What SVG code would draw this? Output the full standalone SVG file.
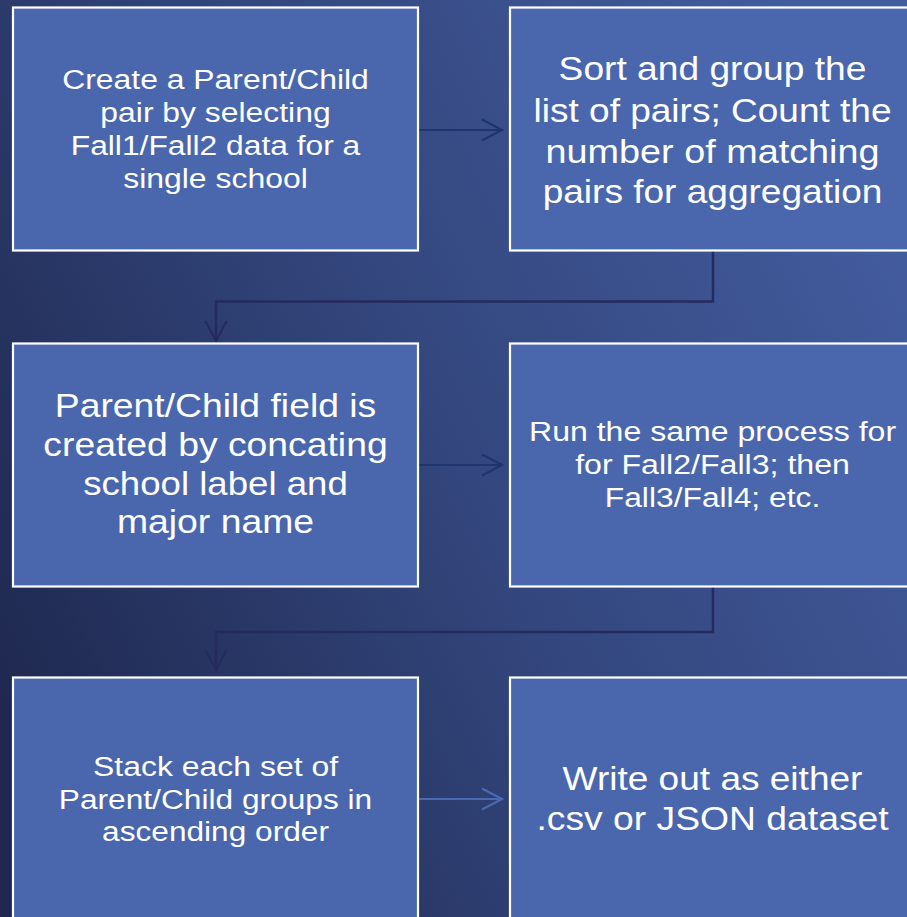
<svg xmlns="http://www.w3.org/2000/svg" width="907" height="917" viewBox="0 0 907 917">
<defs>
<linearGradient id="bg" x1="0" y1="0.75" x2="1" y2="0.25">
<stop offset="0" stop-color="#1f2950"/>
<stop offset="0.5" stop-color="#33467d"/>
<stop offset="1" stop-color="#435c9e"/>
</linearGradient>
<marker id="ahDark" markerUnits="userSpaceOnUse" markerWidth="26" markerHeight="26" viewBox="-22 -12 26 24" refX="0" refY="0" orient="auto">
<path d="M-20,-10.5 L0,0 L-20,10.5" fill="none" stroke="#1e3570" stroke-width="2.2"/>
</marker>
<marker id="ahElbow" markerUnits="userSpaceOnUse" markerWidth="26" markerHeight="26" viewBox="-22 -12 26 24" refX="0" refY="0" orient="auto">
<path d="M-20,-10.5 L0,0 L-20,10.5" fill="none" stroke="#252b5e" stroke-width="2.2"/>
</marker>
<marker id="ahLight" markerUnits="userSpaceOnUse" markerWidth="26" markerHeight="26" viewBox="-22 -12 26 24" refX="0" refY="0" orient="auto">
<path d="M-20,-10.5 L0,0 L-20,10.5" fill="none" stroke="#4a69b0" stroke-width="2.2"/>
</marker>
</defs>
<style>
.box{fill:#4a67ae;stroke:#ffffff;stroke-width:2.2}
.t{font-family:"Liberation Sans",Arial,sans-serif;fill:#ffffff;text-anchor:middle}
.s{font-size:28px}
.l{font-size:32.5px}
.dark{fill:none;stroke:#1e3570;stroke-width:2.2}
.elbow{fill:none;stroke:#252b5e;stroke-width:2.5}
.light{fill:none;stroke:#4a69b0;stroke-width:2.2}
</style>
<rect x="0" y="0" width="907" height="917" fill="url(#bg)"/>

<g id="connectors">
<line class="dark" x1="419" y1="130" x2="502" y2="130" marker-end="url(#ahDark)"/>
<path class="elbow" d="M713,251 V301.5 H216 V341" marker-end="url(#ahElbow)"/>
<line class="dark" x1="419" y1="465" x2="502" y2="465" marker-end="url(#ahDark)"/>
<path class="elbow" d="M713,587 V632 H216 V670" marker-end="url(#ahElbow)"/>
<line class="light" x1="419" y1="799" x2="502" y2="799" marker-end="url(#ahLight)"/>
</g>

<g id="node1">
<rect class="box" x="13" y="7.5" width="405" height="243"/>
<g transform="translate(215.5 0) scale(1.14 1)">
<text class="t s" x="0" y="89.5" textLength="269" lengthAdjust="spacingAndGlyphs">Create a Parent/Child</text>
<text class="t s" x="0" y="122.5" textLength="202" lengthAdjust="spacingAndGlyphs">pair by selecting</text>
<text class="t s" x="0" y="155.5" textLength="254" lengthAdjust="spacingAndGlyphs">Fall1/Fall2 data for a</text>
<text class="t s" x="0" y="188.5" textLength="162" lengthAdjust="spacingAndGlyphs">single school</text>
</g>
</g>

<g id="node2">
<rect class="box" x="510" y="7.5" width="405" height="243"/>
<g transform="translate(712.5 0) scale(1.14 1)">
<text class="t l" x="0" y="80.5" textLength="270" lengthAdjust="spacingAndGlyphs">Sort and group the</text>
<text class="t l" x="0" y="122" textLength="314" lengthAdjust="spacingAndGlyphs">list of pairs; Count the</text>
<text class="t l" x="0" y="163" textLength="293" lengthAdjust="spacingAndGlyphs">number of matching</text>
<text class="t l" x="0" y="203.5" textLength="298" lengthAdjust="spacingAndGlyphs">pairs for aggregation</text>
</g>
</g>

<g id="node3">
<rect class="box" x="13" y="343.5" width="405" height="243"/>
<g transform="translate(215.5 0) scale(1.14 1)">
<text class="t l" x="0" y="417" textLength="282" lengthAdjust="spacingAndGlyphs">Parent/Child field is</text>
<text class="t l" x="0" y="456" textLength="302" lengthAdjust="spacingAndGlyphs">created by concating</text>
<text class="t l" x="0" y="495" textLength="232" lengthAdjust="spacingAndGlyphs">school label and</text>
<text class="t l" x="0" y="533.5" textLength="173" lengthAdjust="spacingAndGlyphs">major name</text>
</g>
</g>

<g id="node4">
<rect class="box" x="510" y="343.5" width="405" height="243"/>
<g transform="translate(712.5 0) scale(1.14 1)">
<text class="t s" x="0" y="441.5" textLength="322" lengthAdjust="spacingAndGlyphs">Run the same process for</text>
<text class="t s" x="0" y="474.5" textLength="241" lengthAdjust="spacingAndGlyphs">for Fall2/Fall3; then</text>
<text class="t s" x="0" y="507.5" textLength="189" lengthAdjust="spacingAndGlyphs">Fall3/Fall4; etc.</text>
</g>
</g>

<g id="node5">
<rect class="box" x="13" y="677.5" width="405" height="243"/>
<g transform="translate(215.5 0) scale(1.14 1)">
<text class="t s" x="0" y="776.5" textLength="215" lengthAdjust="spacingAndGlyphs">Stack each set of</text>
<text class="t s" x="0" y="809" textLength="275" lengthAdjust="spacingAndGlyphs">Parent/Child groups in</text>
<text class="t s" x="0" y="841.5" textLength="199" lengthAdjust="spacingAndGlyphs">ascending order</text>
</g>
</g>

<g id="node6">
<rect class="box" x="510" y="677.5" width="405" height="243"/>
<g transform="translate(712.5 0) scale(1.14 1)">
<text class="t l" x="0" y="790" textLength="263" lengthAdjust="spacingAndGlyphs">Write out as either</text>
<text class="t l" x="0" y="830" textLength="309" lengthAdjust="spacingAndGlyphs">.csv or JSON dataset</text>
</g>
</g>
</svg>
